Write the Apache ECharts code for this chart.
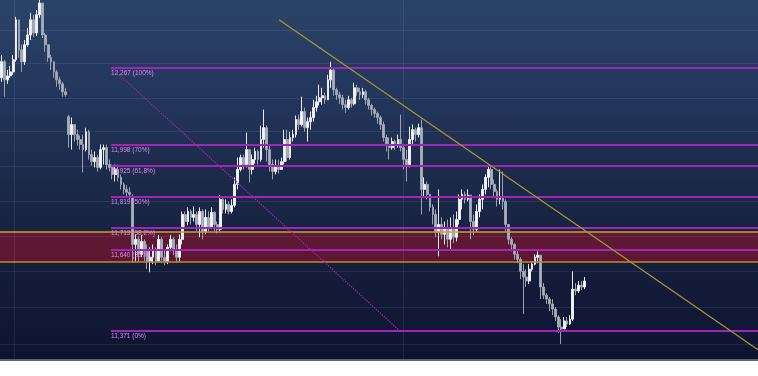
<!DOCTYPE html>
<html><head><meta charset="utf-8">
<script src="https://cdn.jsdelivr.net/npm/echarts@6/dist/echarts.min.js"></script>
<style>
html,body{margin:0;padding:0;background:#ffffff;width:758px;height:376px;overflow:hidden}
#wrap{width:758px;height:359px;background:linear-gradient(to bottom,#2c4368 0%,#223459 30%,#1a2746 55%,#131b38 80%,#0e1330 100%);border-bottom:2px solid #5d6373}
#chart{width:758px;height:359px}
</style></head>
<body><div id="wrap"><div id="chart"></div></div>
<script>
// ---- data ----
const slotCount = 260;
const categories = Array.from({length: slotCount}, (_, i) => String(i));
const opens = [
12230,12287,12223,12237,12251,12294,12436,12329,12287,12347,
12382,12436,12389,12454,12496,12382,12347,12301,12287,12251,
12223,12209,12181,12094,12032,12067,12032,12015,11998,11980,
12042,11963,11939,11953,11919,11980,11987,11929,11919,11895,
11912,11885,11861,11844,11834,11820,11658,11675,11625,11668,
11635,11601,11615,11642,11601,11675,11615,11601,11648,11675,
11642,11615,11675,11759,11735,11769,11749,11759,11725,11769,
11702,11749,11715,11766,11725,11709,11810,11776,11793,11769,
11790,11861,11912,11953,11929,11980,11912,11946,11974,11946,
12015,12056,11980,11929,11905,11925,11912,11939,12015,11953,
12022,12032,12084,12067,12112,12056,12077,12091,12126,12146,
12160,12167,12153,12223,12258,12188,12171,12160,12136,12126,
12153,12139,12195,12181,12171,12181,12153,12133,12119,12105,
12091,12067,12022,11998,11987,12008,11994,12015,11987,11946,
11929,12015,12049,12032,12056,11844,11861,11827,11783,11759,
11702,11725,11692,11715,11675,11709,11682,11742,11810,11827,
11810,11824,11735,11709,11769,11810,11844,11885,11912,11861,
11837,11810,11817,11803,11725,11675,11658,11625,11608,11568,
11549,11536,11575,11592,11615,11622,11516,11489,11476,11460,
11443,11417,11384,11378,11404,11394,11410,11509,11503,11522,
11516];
const closes = [
12287,12223,12237,12251,12294,12436,12329,12287,12347,12382,
12436,12389,12454,12496,12382,12347,12301,12287,12251,12223,
12209,12181,12171,12032,12067,12032,12015,11998,11980,12042,
11963,11939,11953,11919,11980,11987,11929,11919,11895,11912,
11885,11861,11844,11834,11827,11658,11675,11625,11668,11635,
11601,11615,11642,11601,11675,11615,11601,11648,11675,11642,
11615,11675,11759,11735,11769,11749,11759,11725,11769,11702,
11749,11715,11766,11725,11709,11810,11776,11793,11769,11790,
11861,11912,11953,11929,11980,11912,11946,11974,11946,12015,
12056,11980,11929,11905,11925,11912,11939,12015,11953,12022,
12032,12084,12067,12112,12056,12077,12091,12126,12146,12160,
12167,12153,12223,12258,12188,12171,12160,12136,12126,12153,
12139,12195,12181,12171,12181,12153,12133,12119,12105,12091,
12067,12022,11998,11987,12008,11994,12015,11987,11946,11929,
12015,12049,12032,12056,11844,11861,11827,11783,11759,11702,
11725,11692,11715,11675,11709,11682,11742,11810,11827,11810,
11824,11735,11709,11769,11810,11844,11885,11912,11861,11837,
11810,11817,11803,11725,11675,11658,11625,11608,11568,11549,
11536,11575,11592,11615,11622,11516,11489,11476,11460,11443,
11417,11384,11378,11404,11394,11410,11509,11503,11522,11516,
11536];
const highs = [
12311,12294,12258,12272,12311,12447,12364,12347,12364,12407,
12461,12454,12471,12507,12489,12389,12329,12311,12280,12258,
12234,12216,12195,12101,12091,12056,12049,12029,12032,12056,
12049,11980,11974,11963,11998,11998,11998,11946,11929,11929,
11929,11895,11868,11858,11851,11827,11692,11685,11689,11675,
11658,11648,11658,11648,11689,11682,11642,11658,11689,11682,
11658,11692,11769,11769,11783,11776,11786,11769,11783,11776,
11776,11769,11783,11769,11735,11824,11817,11810,11803,11810,
11885,11953,11963,11963,12039,11980,11963,11987,11980,12063,
12119,12063,11998,11946,11946,11946,11953,12049,12049,12042,
12049,12098,12101,12164,12126,12091,12112,12153,12167,12206,
12195,12178,12241,12287,12265,12195,12181,12171,12153,12167,
12160,12213,12206,12195,12195,12188,12160,12139,12126,12112,
12098,12077,12032,12022,12022,12015,12032,12101,11998,11980,
12060,12067,12056,12070,12084,11885,11871,11827,11793,11776,
11844,11749,11735,11742,11749,11759,11769,11827,11844,11837,
11844,11827,11759,11793,11827,11861,11895,11929,11919,11878,
11844,11912,11905,11810,11725,11682,11662,11642,11615,11592,
11575,11592,11601,11625,11635,11622,11529,11496,11483,11476,
11450,11423,11410,11417,11417,11423,11568,11529,11536,11536,
11549];
const lows = [
12216,12164,12209,12230,12241,12287,12301,12251,12276,12340,
12364,12375,12378,12443,12371,12322,12287,12258,12230,12199,
12188,12164,12164,11987,11980,12008,11994,11980,11902,11974,
11946,11925,11919,11905,11912,11929,11912,11905,11878,11871,
11871,11844,11827,11817,11810,11598,11601,11601,11615,11601,
11575,11565,11592,11588,11601,11595,11588,11592,11635,11622,
11598,11601,11658,11715,11722,11725,11735,11702,11682,11675,
11692,11702,11709,11702,11695,11702,11762,11762,11759,11762,
11783,11844,11905,11912,11919,11868,11895,11932,11929,11939,
11987,11939,11905,11878,11895,11898,11912,11929,11939,11946,
12008,12022,12049,12060,12042,12008,12049,12077,12112,12133,
12136,12139,12153,12195,12167,12153,12139,12119,12108,12119,
12126,12133,12167,12153,12160,12136,12119,12098,12091,12070,
12049,12008,11974,11946,11980,11980,11987,11974,11912,11871,
11919,11998,12008,12022,11759,11817,11810,11769,11725,11682,
11618,11675,11658,11648,11642,11662,11668,11725,11776,11796,
11803,11675,11689,11702,11749,11776,11827,11851,11844,11817,
11786,11793,11776,11702,11658,11635,11608,11595,11542,11427,
11516,11526,11568,11588,11595,11476,11476,11460,11437,11423,
11404,11365,11329,11378,11384,11391,11404,11489,11496,11506,
11509];
// Fibonacci retracement levels
const fibPrices = [12267, 11998, 11925, 11819, 11713, 11640, 11371];
const fibLabels = ['12,267 (100%)', '11,998 (70%)', '11,925 (61,8%)', '11,819 (50%)', '11,713 (38,2%)', '11,640 (30%)', '11,371 (0%)'];
const fibStartIndex = 37.6;
// support zone
const zoneTop = 11700, zoneBottom = 11600;
// trend lines [index, price]
const trendLine = [[95.2, 12436], [259.5, 11310]];
const fibDiagonal = [[37.6, 12267], [136.7, 11371]];
// background grid
const gridPrices = [12398, 12280, 12160, 12042, 11924, 11803, 11685, 11567, 11450, 11329];
const gridIndexes = [4.3, 137.8];
const yMin = 11280, yMax = 12507;

// ---- chart ----
const candles = opens.map((o, i) => {
  const c = closes[i];
  return [o, c, Math.min(lows[i], o, c), Math.max(highs[i], o, c)];
});
const chart = echarts.init(document.getElementById('chart'), null, {renderer: 'canvas'});
const fibColor = '#a324b8';
chart.setOption({
  animation: false,
  backgroundColor: 'transparent',
  grid: {left: 0, right: 0, top: 0, bottom: 0},
  xAxis: [
    {type: 'category', data: categories, show: false, boundaryGap: true},
    {type: 'value', min: -0.5, max: slotCount - 0.5, show: false}
  ],
  yAxis: {type: 'log', logBase: 10, min: yMin, max: yMax, show: false},
  series: [
    {
      type: 'line', xAxisIndex: 1, data: [], z: 1, silent: true,
      markLine: {
        silent: true, symbol: 'none', label: {show: false},
        lineStyle: {color: 'rgba(150,170,210,0.13)', width: 1, type: 'solid'},
        data: gridPrices.map(p => ({yAxis: p})).concat(gridIndexes.map(v => ({xAxis: v})))
      }
    },
    {
      type: 'candlestick', data: candles, z: 2, barWidth: 2.3,
      itemStyle: {color: '#f4f6fb', color0: '#a9b0bd', borderColor: '#e8ebf2', borderColor0: '#9ba3b1', borderWidth: 1}
    },
    {
      type: 'line', xAxisIndex: 1, data: [], z: 5, silent: true,
      markArea: {
        silent: true,
        itemStyle: {color: 'rgba(165,15,40,0.5)'},
        data: [[{yAxis: zoneTop}, {yAxis: zoneBottom}]]
      },
      markLine: {
        silent: true, symbol: 'none', label: {show: false},
        data: [
          {yAxis: zoneTop, lineStyle: {color: '#c9a42a', width: 1.5, type: 'solid'}},
          {yAxis: zoneBottom, lineStyle: {color: '#c58a2c', width: 1.5, type: 'solid'}}
        ]
      }
    },
    {
      type: 'line', xAxisIndex: 1, data: [], z: 6, silent: true,
      markLine: {
        silent: true, symbol: 'none',
        lineStyle: {color: fibColor, width: 2, type: 'solid'},
        label: {show: true, position: 'insideStartBottom', distance: [0, 2], color: '#d98de9', fontSize: 6.5, fontFamily: 'Liberation Sans'},
        data: fibPrices.map((p, k) => [
          {coord: [fibStartIndex, p], label: {formatter: fibLabels[k]}},
          {coord: [slotCount - 0.5, p]}
        ])
      }
    },
    {
      type: 'line', xAxisIndex: 1, data: trendLine, z: 7, symbol: 'none', silent: true,
      lineStyle: {color: '#a49a34', width: 1.2}
    },
    {
      type: 'line', xAxisIndex: 1, data: fibDiagonal, z: 7, symbol: 'none', silent: true,
      lineStyle: {color: '#9a2ab0', width: 1.3, type: 'dotted'}
    }
  ]
});
</script>
</body></html>
